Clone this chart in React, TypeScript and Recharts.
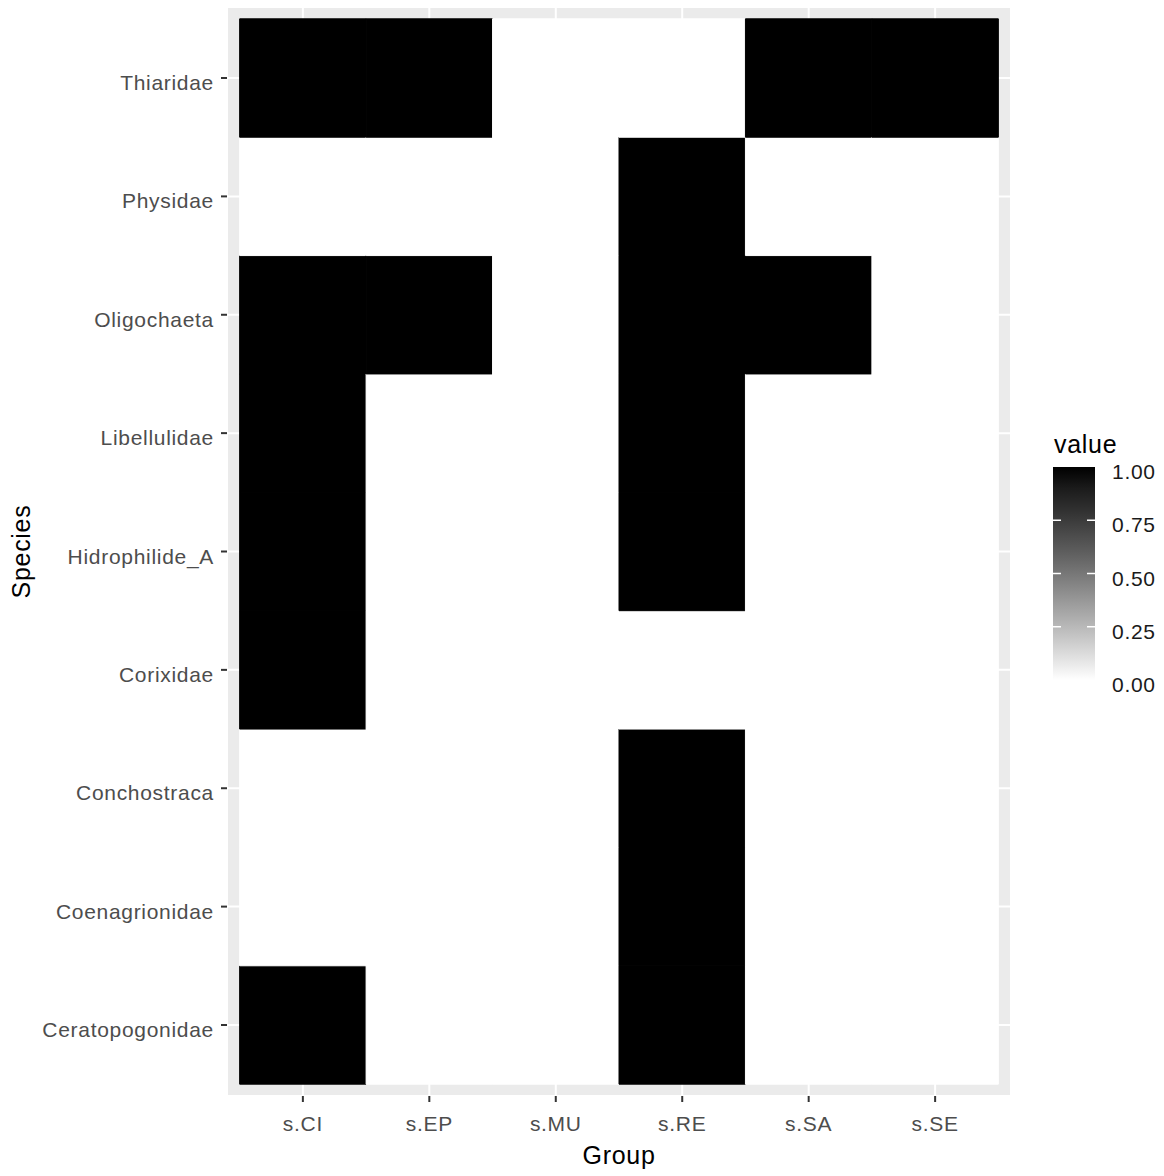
import {
  CartesianGrid,
  Legend,
  ReferenceArea,
  Scatter,
  ScatterChart,
  XAxis,
  YAxis,
} from 'recharts'

const FONT = '"Liberation Sans", Arial, sans-serif'

const GROUPS = ['s.CI', 's.EP', 's.MU', 's.RE', 's.SA', 's.SE']

// bottom to top, as on the y axis
const SPECIES = [
  'Ceratopogonidae',
  'Coenagrionidae',
  'Conchostraca',
  'Corixidae',
  'Hidrophilide_A',
  'Libellulidae',
  'Oligochaeta',
  'Physidae',
  'Thiaridae',
]

// presence per group, in SPECIES order
const CI = [1, 0, 0, 1, 1, 1, 1, 0, 1]
const EP = [0, 0, 0, 0, 0, 0, 1, 0, 1]
const MU = [0, 0, 0, 0, 0, 0, 0, 0, 0]
const RE = [1, 1, 1, 0, 1, 1, 1, 1, 0]
const SA = [0, 0, 0, 0, 0, 0, 1, 0, 1]
const SE = [0, 0, 0, 0, 0, 0, 0, 0, 1]

const COLUMNS = [CI, EP, MU, RE, SA, SE]
const LEGEND_TICKS = [0, 0.25, 0.5, 0.75, 1]

const cells = GROUPS.flatMap((group, gi) =>
  SPECIES.map((species, si) => ({
    x: gi + 1,
    y: si + 1,
    group,
    species,
    value: COLUMNS[gi][si],
  }))
)

// white -> black through Lab lightness, like ggplot's gradient
function grey(v: number) {
  const L = 100 * (1 - v)
  const fy = (L + 16) / 116
  const Y = L > 8 ? fy ** 3 : L / 903.3
  const c = Y <= 0.0031308 ? 12.92 * Y : 1.055 * Y ** (1 / 2.4) - 0.055
  const n = Math.round(255 * Math.min(1, Math.max(0, c)))
  return `rgb(${n},${n},${n})`
}

const tickText = { fill: '#4D4D4D', fontSize: 21, fontFamily: FONT, letterSpacing: 0.7 }

const SpeciesTick = ({ x, y, payload }: any) => (
  <text x={x} y={y + 12} textAnchor="end" {...tickText}>
    {SPECIES[payload.value - 1]}
  </text>
)

const GroupTick = ({ x, y, payload }: any) => (
  <text x={x} y={y + 14} textAnchor="middle" {...tickText}>
    {GROUPS[payload.value - 1]}
  </text>
)

const XTitle = ({ viewBox }: any) => (
  <text
    x={viewBox.x + viewBox.width / 2}
    y={viewBox.y + 68}
    textAnchor="middle"
    fill="#000"
    fontSize={25}
    letterSpacing={0.7}
    fontFamily={FONT}
  >
    Group
  </text>
)

const YTitle = ({ viewBox }: any) => {
  const x = viewBox.x + 30
  const y = viewBox.y + viewBox.height / 2
  return (
    <text
      x={x}
      y={y}
      transform={`rotate(-90, ${x}, ${y})`}
      textAnchor="middle"
      fill="#000"
      fontSize={25}
      letterSpacing={0.7}
      fontFamily={FONT}
    >
      Species
    </text>
  )
}

const BAR_TOP = 42
const BAR_H = 213

const ColourBar = () => (
  <svg width={124} height={280} style={{ display: 'block', overflow: 'visible' }}>
    <defs>
      <linearGradient id="valueBar" x1="0" y1="1" x2="0" y2="0">
        {[0, 0.1, 0.2, 0.3, 0.4, 0.5, 0.6, 0.7, 0.8, 0.9, 1].map((t) => (
          <stop key={t} offset={`${t * 100}%`} stopColor={grey(t)} />
        ))}
      </linearGradient>
    </defs>
    <text x={14} y={28} fontSize={25} letterSpacing={0.7} fontFamily={FONT} fill="#000">
      value
    </text>
    <rect x={13} y={BAR_TOP} width={42} height={BAR_H} fill="url(#valueBar)" />
    {LEGEND_TICKS.filter((v) => v > 0 && v < 1).map((v) => {
      const ty = BAR_TOP + (1 - v) * BAR_H
      return (
        <g key={v} stroke="#FFFFFF" strokeWidth={1.5}>
          <line x1={13} x2={21} y1={ty} y2={ty} />
          <line x1={47} x2={55} y1={ty} y2={ty} />
        </g>
      )
    })}
    {LEGEND_TICKS.map((v) => (
      <text
        key={v}
        x={72}
        y={BAR_TOP + (1 - v) * BAR_H + 12}
        fontSize={21}
        letterSpacing={0.7}
        fontFamily={FONT}
        fill="#1A1A1A"
      >
        {v.toFixed(2)}
      </text>
    ))}
  </svg>
)

export default function App() {
  return (
    <div style={{ position: 'absolute', left: 0, top: 0, background: '#fff' }}>
      <ScatterChart width={1164} height={1176} margin={{ top: 7, right: 153, bottom: 0, left: 0 }}>
        <CartesianGrid fill="#EBEBEB" fillOpacity={1} stroke="#FFFFFF" strokeWidth={2} />
        <XAxis
          type="number"
          dataKey="x"
          domain={[0.4, 6.6]}
          ticks={GROUPS.map((_, i) => i + 1)}
          interval={0}
          height={80}
          axisLine={false}
          tickLine={{ stroke: '#333333', strokeWidth: 2 }}
          tickSize={6}
          tickMargin={15}
          tick={<GroupTick />}
          allowDataOverflow
          label={{ content: XTitle }}
        />
        <YAxis
          type="number"
          dataKey="y"
          domain={[0.4, 9.6]}
          ticks={SPECIES.map((_, i) => i + 1)}
          interval={0}
          width={227}
          axisLine={false}
          tickLine={{ stroke: '#333333', strokeWidth: 2 }}
          tickSize={6}
          tickMargin={7}
          tick={<SpeciesTick />}
          allowDataOverflow
          label={{ content: YTitle }}
        />
        {cells.map((c) => (
          <ReferenceArea
            key={`${c.group}-${c.species}`}
            x1={c.x - 0.5}
            x2={c.x + 0.5}
            y1={c.y - 0.5}
            y2={c.y + 0.5}
            fill={grey(c.value)}
            fillOpacity={1}
            stroke={grey(c.value)}
            strokeWidth={1}
            ifOverflow="visible"
          />
        ))}
        <Scatter data={cells} fill="none" shape={() => <g />} isAnimationActive={false} />
        <Legend
          content={ColourBar}
          layout="vertical"
          align="center"
          verticalAlign="middle"
          wrapperStyle={{ position: 'absolute', left: 1040, top: 425, width: 124, height: 280 }}
        />
      </ScatterChart>
    </div>
  )
}
